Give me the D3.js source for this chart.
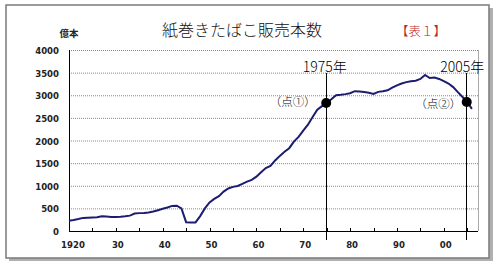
<!DOCTYPE html>
<html><head><meta charset="utf-8">
<script src="https://cdn.jsdelivr.net/npm/d3@7"></script>
<style>body{margin:0;background:#fff}svg{display:block}</style>
</head><body>
<svg id="c" width="500" height="264"></svg>
<script>
const years = d3.range(1920, 2007);
const sales = [228,245,265,290,295,300,303,325,320,312,
310,315,325,340,385,395,400,410,430,460,
490,520,555,560,500,195,188,190,330,500,
630,710,770,870,940,975,995,1040,1090,1130,
1200,1300,1390,1440,1560,1660,1750,1830,1975,2080,
2220,2350,2520,2680,2760,2830,2910,3000,3010,3025,
3045,3090,3085,3070,3055,3030,3075,3090,3110,3170,
3220,3260,3290,3310,3320,3360,3448,3380,3390,3360,
3310,3260,3180,3070,2960,2852,2700];
const yTicks = [0,500,1000,1500,2000,2500,3000,3500,4000];
const xTickYears = [1920,1930,1940,1950,1960,1970,1980,1990,2000];
const xTickLabels = ["1920","30","40","50","60","70","80","90","00"];
const markYears = [1975, 2005];
const markLabels = ["（点①）","（点②）"];
const title = "紙巻きたばこ販売本数";

const svg = d3.select("#c");
const x = d3.scaleLinear().domain([1920, 2007.3]).range([69, 478]);
const y = d3.scaleLinear().domain([0, 4000]).range([231, 50]);
const data = years.map((yr,i)=>({yr, v: sales[i]}));

// frame with shadow
svg.append("rect").attr("x",9).attr("y",8).attr("width",484).attr("height",253).attr("fill","#b0b0b0");
svg.append("rect").attr("x",6).attr("y",5).attr("width",483).attr("height",253)
  .attr("fill","#fff").attr("stroke","#7a7a7a").attr("stroke-width",1.5);

// gridlines
svg.append("g").selectAll("line").data(yTicks.filter(d=>d>0)).join("line")
  .attr("x1",69).attr("x2",478).attr("y1",d=>y(d)+0.5).attr("y2",d=>y(d)+0.5)
  .attr("stroke","#888").attr("stroke-dasharray","1,1");
// plot right border
svg.append("line").attr("x1",478.5).attr("x2",478.5).attr("y1",50).attr("y2",231)
  .attr("stroke","#aaa");

// y tick labels
svg.append("g").selectAll("text").data(yTicks).join("text")
  .attr("x",59).attr("y",d=>y(d)+4).attr("text-anchor","end")
  .attr("font-family","DejaVu Sans Condensed, DejaVu Sans").attr("font-weight","bold")
  .attr("font-size",9.5).attr("fill","#222").text(d=>d);

// axes lines
svg.append("line").attr("x1",69.5).attr("x2",69.5).attr("y1",50).attr("y2",231.5).attr("stroke","#000");
svg.append("line").attr("x1",69).attr("x2",478).attr("y1",231.5).attr("y2",231.5).attr("stroke","#000");
// x ticks every 5 years (inside)
svg.append("g").selectAll("line").data(d3.range(1925, 2006, 5)).join("line")
  .attr("x1",d=>Math.round(x(d))+0.5).attr("x2",d=>Math.round(x(d))+0.5)
  .attr("y1",228).attr("y2",231).attr("stroke","#000");
// x labels
svg.append("g").selectAll("text").data(xTickYears).join("text")
  .attr("x",(d)=>x(d)+ (d===1920?4:2)).attr("y",248).attr("text-anchor","middle")
  .attr("font-family","DejaVu Sans Condensed, DejaVu Sans").attr("font-weight","bold")
  .attr("font-size",9.5).attr("fill","#222").text((d,i)=>xTickLabels[i]);

// vertical marker lines
svg.append("g").selectAll("line").data(markYears).join("line")
  .attr("x1",d=>Math.round(x(d))-0.5).attr("x2",d=>Math.round(x(d))-0.5)
  .attr("y1",73).attr("y2",240).attr("stroke","#000");

// data line
svg.append("path").datum(data)
  .attr("d", d3.line().x(d=>x(d.yr)).y(d=>y(d.v)))
  .attr("fill","none").attr("stroke","#1c1c70").attr("stroke-width",2);

// marker dots
svg.append("g").selectAll("circle").data(markYears).join("circle")
  .attr("cx",d=>x(d)-0.5).attr("cy",d=>y(sales[years.indexOf(d)]))
  .attr("r",5).attr("fill","#000");

// year labels
svg.append("g").selectAll("text").data(markYears).join("text")
  .attr("x",(d,i)=>x(d)+(i===0?-2:-5)).attr("y",72).attr("text-anchor","middle")
  .attr("font-family","Noto Sans CJK JP").attr("font-size",14).attr("font-weight",300).attr("fill","#000")
  .text(d=>d+"年");
// point labels
svg.append("g").selectAll("text").data(markYears).join("text")
  .attr("x",(d,i)=>x(d)-34+(i===0?0:5)).attr("y",(d,i)=>i===0?106:108).attr("text-anchor","middle")
  .attr("font-family","Noto Sans CJK JP").attr("font-size",11.5).attr("font-weight",300).attr("fill","#000")
  .text((d,i)=>markLabels[i]);

// title
svg.append("text").attr("x",242).attr("y",36).attr("text-anchor","middle")
  .attr("font-family","Noto Sans CJK JP").attr("font-size",16).attr("font-weight",300)
  .attr("fill","#111").text(title);
svg.append("text").attr("x",421).attr("y",36).attr("text-anchor","middle")
  .attr("font-family","Noto Sans CJK JP").attr("font-size",12.5).attr("font-weight",300)
  .attr("fill","#c02828").text("【表１】");
svg.append("text").attr("x",69).attr("y",37).attr("text-anchor","middle")
  .attr("font-family","Noto Sans CJK JP").attr("font-weight","bold").attr("font-size",9.5)
  .attr("fill","#222").text("億本");
</script>
</body></html>
